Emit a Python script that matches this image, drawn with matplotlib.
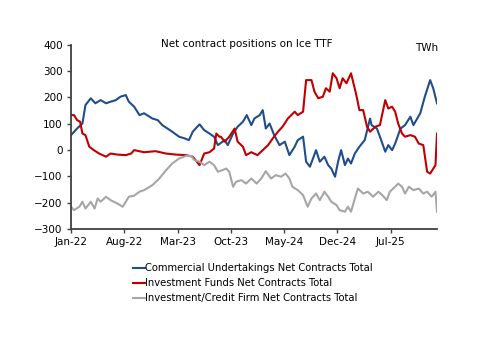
import matplotlib
matplotlib.use('Agg')
from matplotlib import pyplot as plt

# months since Jan-22 and values (TWh)
comm_m = [0, 0.8, 1.5, 1.9, 2.6, 3.2, 3.9, 4.6, 5.2, 5.9, 6.5, 7.2, 7.6, 8.3, 9.0, 9.6,
          10.7, 11.4, 12.0, 13.3, 14.2, 15.0, 15.5, 16.0, 16.6, 16.9, 17.5, 18.2, 18.8, 19.3,
          20.2, 20.6, 21.3, 21.9, 22.6, 23.1, 23.7, 24.1, 24.8, 25.2, 25.6, 26.1, 26.7, 27.4,
          28.1, 28.7, 29.4, 29.8, 30.5, 30.9, 31.4, 31.8, 32.2, 32.7, 33.3, 33.8, 34.2, 34.7,
          35.1, 35.5, 36.0, 36.4, 36.8, 37.3, 37.9, 38.6, 39.3, 39.5, 40.2, 40.6, 41.3, 41.7,
          42.2, 42.6, 43.3, 43.9, 44.6, 45.0, 45.9, 46.5, 47.2, 47.6, 48.1]
comm_v = [57, 82, 101, 171, 197, 178, 190, 178, 184, 190, 203, 209, 184, 165, 133, 140,
          120, 114, 95, 70, 51, 44, 38, 70, 89, 98, 76, 63, 51, 19,
          38, 19, 63, 89, 108, 133, 95, 120, 133, 152, 82, 101, 57, 19,
          32, -19, 13, 38, 51, -44, -63, -32, 0, -44, -25, -57, -70, -101,
          -44, 0, -57, -32, -51, -13, 13, 38, 120, 95, 82, 51, -6, 19,
          0, 25, 82, 95, 127, 95, 140, 203, 266, 235, 178]

fund_m = [0, 0.4, 0.8, 1.2, 1.5, 1.9, 2.4, 3.0, 3.7, 4.6, 5.2, 6.1, 7.2, 7.9, 8.3, 9.6,
          11.1, 12.5, 13.8, 15.1, 16.0, 16.9, 17.5, 18.2, 18.8, 19.1, 19.5, 19.7, 20.2, 20.8,
          21.5, 21.9, 22.6, 23.0, 23.7, 24.5, 25.2, 25.9, 26.5, 27.2, 27.8, 28.5, 29.4, 29.8,
          30.5, 30.9, 31.6, 32.0, 32.5, 33.1, 33.5, 34.0, 34.4, 34.9, 35.3, 35.7, 36.2, 36.8,
          37.5, 37.9, 38.4, 38.9, 39.3, 40.0, 40.6, 41.3, 41.7, 42.2, 42.6, 43.0, 43.5, 43.9,
          44.6, 45.2, 45.7, 46.3, 46.8, 47.2, 47.9, 48.1]
fund_v = [133, 133, 114, 108, 63, 57, 13, 0, -13, -25, -13, -17, -19, -13, 0, -8,
          -4, -13, -17, -19, -25, -57, -13, -8, 6, 63, 51, 51, 32, 51,
          82, 32, 13, -19, -8, -19, 0, 19, 44, 70, 89, 120, 146, 133,
          146, 266, 266, 222, 197, 203, 235, 222, 292, 273, 235, 273, 254, 292,
          209, 152, 152, 89, 70, 89, 95, 190, 158, 165, 146, 101, 63, 51,
          57, 51, 25, 19, -82, -89, -57, 63]

firm_m = [0, 0.4, 1.1, 1.5, 1.9, 2.6, 3.1, 3.5, 3.9, 4.6, 5.2, 6.1, 6.8, 7.2, 7.6, 8.3,
          9.0, 9.6, 10.7, 11.6, 12.5, 13.3, 14.2, 15.1, 15.8, 16.2, 16.9, 17.5, 18.2, 18.8,
          19.3, 19.9, 20.4, 20.8, 21.3, 21.7, 22.4, 23.0, 23.7, 24.4, 25.0, 25.6, 26.3, 26.9,
          27.6, 28.2, 28.7, 29.1, 29.8, 30.5, 31.1, 31.6, 32.2, 32.7, 33.3, 33.8, 34.2, 34.9,
          35.3, 36.0, 36.4, 36.8, 37.3, 37.7, 38.4, 39.0, 39.7, 40.4, 40.9, 41.5, 41.9, 42.6,
          43.0, 43.5, 43.9, 44.4, 45.0, 45.7, 46.3, 46.8, 47.4, 47.9, 48.1]
firm_v = [-215, -228, -215, -196, -222, -196, -222, -184, -196, -177, -190, -203, -215, -196, -177, -173,
          -158, -152, -133, -108, -76, -51, -32, -22, -22, -38, -44, -57, -44, -57,
          -82, -76, -70, -82, -139, -120, -114, -127, -108, -127, -108, -80, -108, -95,
          -101, -89, -108, -139, -152, -171, -215, -184, -165, -190, -158, -177, -196, -209,
          -228, -234, -215, -234, -184, -146, -165, -158, -177, -158, -171, -190, -158, -139,
          -127, -139, -165, -139, -152, -146, -165, -158, -177, -158, -234]

tick_pos = [0, 7, 14, 21, 28, 35, 42]
tick_labels = ['Jan-22', 'Aug-22', 'Mar-23', 'Oct-23', 'May-24', 'Dec-24', 'Jul-25']

plt.rcParams['font.family'] = ['DejaVu Sans']
plt.rcParams['font.size'] = 7

fig = plt.figure(figsize=(5, 3.53), dpi=100)
ax = fig.add_axes([0.142, 0.351, 0.732, 0.522])

ax.plot(comm_m, comm_v, color='#1F4E8C', lw=1.5, label='Commercial Undertakings Net Contracts Total')
ax.plot(fund_m, fund_v, color='#C00000', lw=1.5, label='Investment Funds Net Contracts Total')
ax.plot(firm_m, firm_v, color='#A6A6A6', lw=1.5, label='Investment/Credit Firm Net Contracts Total')

ax.set_xlim(0, 48.1)
ax.set_ylim(-300, 400)
ax.set_yticks(range(-300, 401, 100))
ax.set_xticks(tick_pos)
ax.set_xticklabels(tick_labels)
for s in ['top', 'right']:
    ax.spines[s].set_visible(False)
for s in ['left', 'bottom']:
    ax.spines[s].set_color('#404040')
    ax.spines[s].set_linewidth(1.3)
ax.tick_params(length=3, width=1, color='#404040', labelsize=7.5, pad=3)

fig.text(0.494, 0.875, 'Net contract positions on Ice TTF', ha='center', va='center', fontsize=7.5)
fig.text(0.876, 0.864, 'TWh', ha='right', va='center', fontsize=7.5)

fig.legend(loc='upper left', bbox_to_anchor=(0.266, 0.254), frameon=False,
           handlelength=1.2, handletextpad=0.0, labelspacing=0.5, fontsize=7.2,
           borderaxespad=0, borderpad=0)

fig.savefig('out.png', dpi=100)
